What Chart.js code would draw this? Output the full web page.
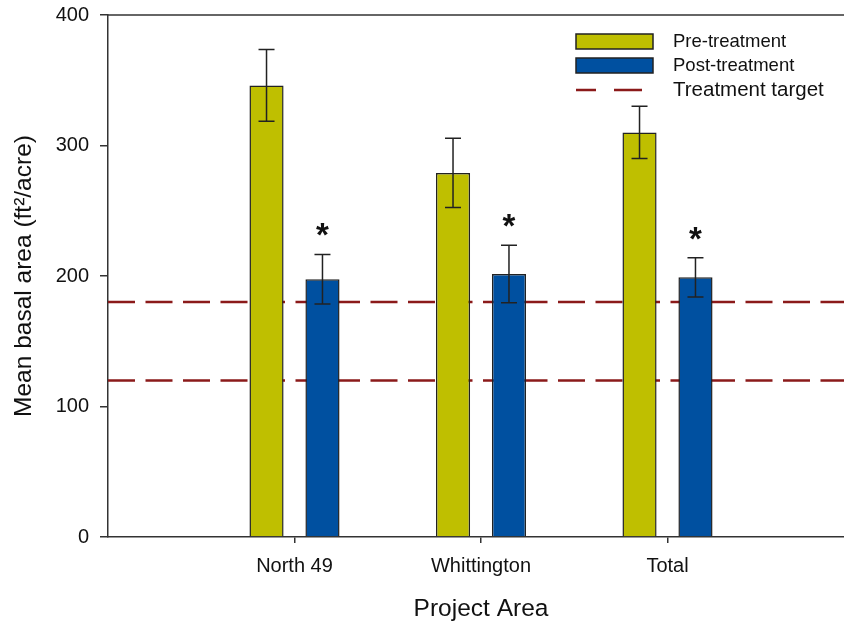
<!DOCTYPE html>
<html>
<head>
<meta charset="utf-8">
<title>Mean basal area by project area</title>
<script src="https://cdn.jsdelivr.net/npm/chart.js@4"></script>
<style>
    html, body { margin: 0; padding: 0; background: #fff; overflow: hidden; }
    #wrap { width: 854px; height: 624px; }
</style>
</head>
<body>
<div id="wrap"><canvas id="chart" width="854" height="624"></canvas></div>
<script>
// valores
const areas = ['North 49', 'Whittington', 'Total'];
const preMean = [346, 279, 310];
const preSE = [27.5, 26.5, 20];
const postMean = [197.5, 201.5, 199];
const postSE = [19, 22, 15];
const significant = [true, true, true];
const targetLines = [180, 120];
const yTicks = [0, 100, 200, 300, 400];

const FONT = "'Liberation Sans', Arial, sans-serif";
const preColor = '#bfbf00';
const postColor = '#0050a0';
const targetColor = '#8b1a1a';
const axisColor = '#333';

document.addEventListener("DOMContentLoaded", () => {
    const ctx = document.getElementById('chart').getContext('2d');

    const toXY = (arr) => arr.map((v, i) => ({ x: i + 1, y: v }));

    const targetSets = targetLines.map(v => ({
        type: 'line',
        label: 'Treatment target',
        data: [{ x: 0, y: v }, { x: 4, y: v }],
        borderColor: targetColor,
        borderWidth: 2.5,
        borderDash: [27, 10.5],
        pointRadius: 0,
        fill: false,
        order: 2
    }));

    // barras de erro e asteriscos
    const errorBars = {
        id: 'errorBars',
        afterDatasetsDraw(chart) {
            const c = chart.ctx;
            const y = chart.scales.y;
            const sets = [[0, preMean, preSE], [1, postMean, postSE]];
            c.save();
            c.strokeStyle = '#222';
            c.lineWidth = 1.5;
            sets.forEach(([di, means, se]) => {
                const meta = chart.getDatasetMeta(di);
                meta.data.forEach((bar, i) => {
                    const top = y.getPixelForValue(means[i] + se[i]);
                    const bot = y.getPixelForValue(means[i] - se[i]);
                    c.beginPath();
                    c.moveTo(bar.x, top); c.lineTo(bar.x, bot);
                    c.moveTo(bar.x - 8, top); c.lineTo(bar.x + 8, top);
                    c.moveTo(bar.x - 8, bot); c.lineTo(bar.x + 8, bot);
                    c.stroke();
                });
            });
            const post = chart.getDatasetMeta(1);
            c.fillStyle = '#111';
            c.font = 'bold 33px ' + FONT;
            c.textAlign = 'center';
            c.textBaseline = 'alphabetic';
            post.data.forEach((bar, i) => {
                if (!significant[i]) return;
                const top = y.getPixelForValue(postMean[i] + postSE[i]);
                c.fillText('*', bar.x, top - 27 + 19);
            });
            c.restore();
        },
        afterDraw(chart) {
            const c = chart.ctx;
            const a = chart.chartArea;
            c.save();
            // linha de cima
            c.strokeStyle = axisColor;
            c.lineWidth = 1.5;
            c.beginPath();
            c.moveTo(a.left, a.top);
            c.lineTo(a.right, a.top);
            c.stroke();

            // legenda
            c.lineWidth = 1.5;
            c.strokeStyle = '#222';
            c.fillStyle = preColor;
            c.fillRect(576, 34, 77, 15);
            c.strokeRect(576, 34, 77, 15);
            c.fillStyle = postColor;
            c.fillRect(576, 58, 77, 15);
            c.strokeRect(576, 58, 77, 15);
            c.strokeStyle = targetColor;
            c.lineWidth = 2.5;
            c.beginPath();
            c.moveTo(576, 90); c.lineTo(596, 90);
            c.moveTo(614, 90); c.lineTo(642, 90);
            c.stroke();

            c.fillStyle = '#111';
            c.textAlign = 'left';
            c.textBaseline = 'middle';
            c.font = '18.5px ' + FONT;
            c.fillText('Pre-treatment', 673, 42);
            c.fillText('Post-treatment', 673, 66);
            c.font = '20.5px ' + FONT;
            c.fillText('Treatment target', 673, 90);
            c.restore();
        }
    };

    new Chart(ctx, {
        type: 'bar',
        data: {
            datasets: [{
                label: 'Pre-treatment',
                data: toXY(preMean),
                backgroundColor: preColor,
                borderColor: '#222',
                borderWidth: 1.5,
                categoryPercentage: 0.6,
                barPercentage: 0.61,
                order: 1
            }, {
                label: 'Post-treatment',
                data: toXY(postMean),
                backgroundColor: postColor,
                borderColor: '#222',
                borderWidth: 1.5,
                categoryPercentage: 0.6,
                barPercentage: 0.61,
                order: 1
            }, ...targetSets]
        },
        options: {
            responsive: false,
            animation: false,
            events: [],
            layout: { padding: { top: 15, right: 0, bottom: 0, left: 0 } },
            plugins: {
                legend: { display: false },
                tooltip: { enabled: false }
            },
            scales: {
                x: {
                    type: 'linear',
                    min: 0,
                    max: 4,
                    offset: false,
                    afterBuildTicks: (s) => { s.ticks = areas.map((a, i) => ({ value: i + 1 })); },
                    afterFit: (s) => { s.height = 87; s.paddingLeft = 0; s.paddingRight = 0; },
                    ticks: {
                        callback: (v) => areas[v - 1] || '',
                        font: { family: FONT, size: 20 },
                        color: '#111',
                        padding: 11,
                        maxRotation: 0
                    },
                    grid: { display: true, offset: false, drawOnChartArea: false, drawTicks: true, tickLength: 6, color: axisColor, lineWidth: 1.5 },
                    border: { display: true, color: axisColor, width: 1.5 },
                    title: {
                        display: true,
                        text: 'Project Area',
                        font: { family: FONT, size: 24.5 },
                        color: '#111',
                        padding: { top: 0, bottom: 0 }
                    }
                },
                y: {
                    min: 0,
                    max: 400,
                    afterBuildTicks: (s) => { s.ticks = yTicks.map(v => ({ value: v })); },
                    afterFit: (s) => { s.width = 108; s.paddingTop = 0; s.paddingBottom = 0; },
                    ticks: {
                        font: { family: FONT, size: 20 },
                        color: '#111',
                        padding: 11
                    },
                    grid: { display: true, drawOnChartArea: false, drawTicks: true, tickLength: 8, color: axisColor, lineWidth: 1.5 },
                    border: { display: true, color: axisColor, width: 1.5 },
                    title: {
                        display: true,
                        text: 'Mean basal area (ft²/acre)',
                        font: { family: FONT, size: 24.5 },
                        color: '#111',
                        padding: { top: 10, bottom: 0 }
                    }
                }
            }
        },
        plugins: [errorBars]
    });
});
</script>
</body>
</html>
